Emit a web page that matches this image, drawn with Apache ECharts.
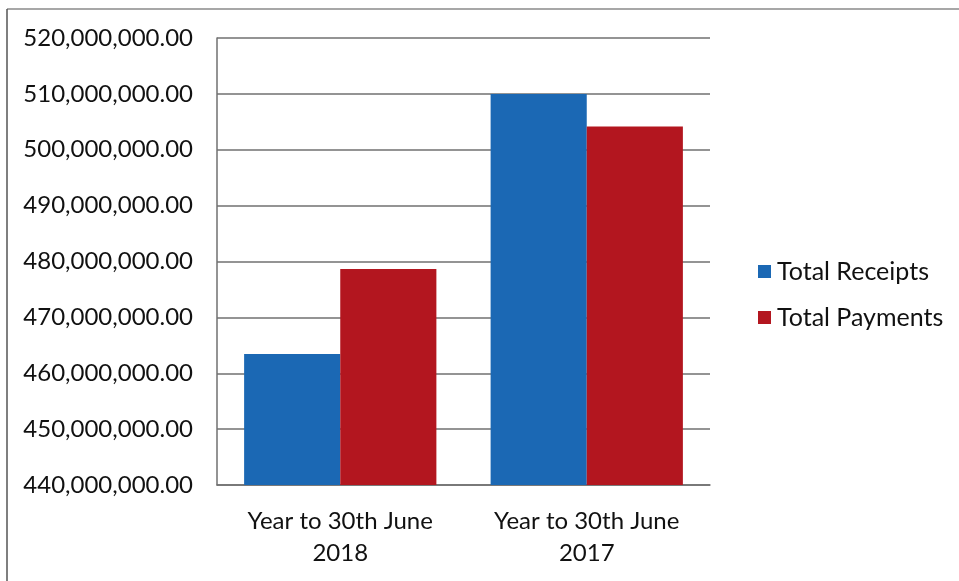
<!DOCTYPE html>
<html>
<head>
<meta charset="utf-8">
<style>
  html, body { margin: 0; padding: 0; background: #ffffff; }
  #chart { width: 959px; height: 581px; }
</style>
<script src="https://cdn.jsdelivr.net/npm/echarts@6/dist/echarts.min.js"></script>
</head>
<body>
<div id="chart"></div>
<script>
// Annual totals, receipts vs payments
const categories = ['Year to 30th June\n2018', 'Year to 30th June\n2017'];
const seriesNames = ['Total Receipts', 'Total Payments'];
const receipts = [463460000, 510000000];
const payments = [478640000, 504160000];
const yMin = 440000000;
const yMax = 520000000;
const yStep = 10000000;

const FONT = 'Lato, "Open Sans", sans-serif';
const TEXT = '#111111';
const GRID_LINE = '#707070';

function money(v) {
  return v.toLocaleString('en-US', { minimumFractionDigits: 2, maximumFractionDigits: 2 });
}

const chart = echarts.init(document.getElementById('chart'));
chart.setOption({
  backgroundColor: '#ffffff',
  animation: false,
  textStyle: { fontFamily: FONT },
  grid: { left: 217, right: 249, top: 38, bottom: 96 },
  legend: {
    orient: 'vertical',
    left: 753,
    top: 254,
    itemWidth: 13,
    itemHeight: 13,
    itemGap: 21,
    icon: 'rect',
    data: seriesNames,
    textStyle: { fontFamily: FONT, fontSize: 25, color: TEXT, padding: [0, 0, 0, 1] }
  },
  xAxis: {
    type: 'category',
    data: categories,
    axisLine: { show: true, lineStyle: { color: GRID_LINE, width: 1.5 } },
    axisTick: { show: false },
    axisLabel: {
      margin: 20,
      fontFamily: FONT,
      fontSize: 24,
      lineHeight: 32,
      color: TEXT,
      align: 'center'
    }
  },
  yAxis: {
    type: 'value',
    min: yMin,
    max: yMax,
    interval: yStep,
    axisLine: { show: true, lineStyle: { color: GRID_LINE, width: 1.5 } },
    axisTick: { show: false },
    splitLine: { show: true, lineStyle: { color: GRID_LINE, width: 1.5 } },
    axisLabel: {
      margin: 24,
      fontFamily: FONT,
      fontSize: 24,
      color: TEXT,
      formatter: money
    }
  },
  series: [
    {
      name: seriesNames[0],
      type: 'bar',
      data: receipts,
      barGap: '0%',
      barCategoryGap: '22%',
      itemStyle: { color: '#1b68b4' }
    },
    {
      name: seriesNames[1],
      type: 'bar',
      data: payments,
      barGap: '0%',
      barCategoryGap: '22%',
      itemStyle: { color: '#b3161f' }
    }
  ],
  graphic: [
    // page frame around the chart
    { type: 'line', shape: { x1: 7, y1: 9, x2: 959, y2: 9 }, style: { stroke: '#8a8a8a', lineWidth: 1.5 } },
    { type: 'line', shape: { x1: 7, y1: 9, x2: 7, y2: 581 }, style: { stroke: '#555555', lineWidth: 1.5 } }
  ]
});
</script>
</body>
</html>
